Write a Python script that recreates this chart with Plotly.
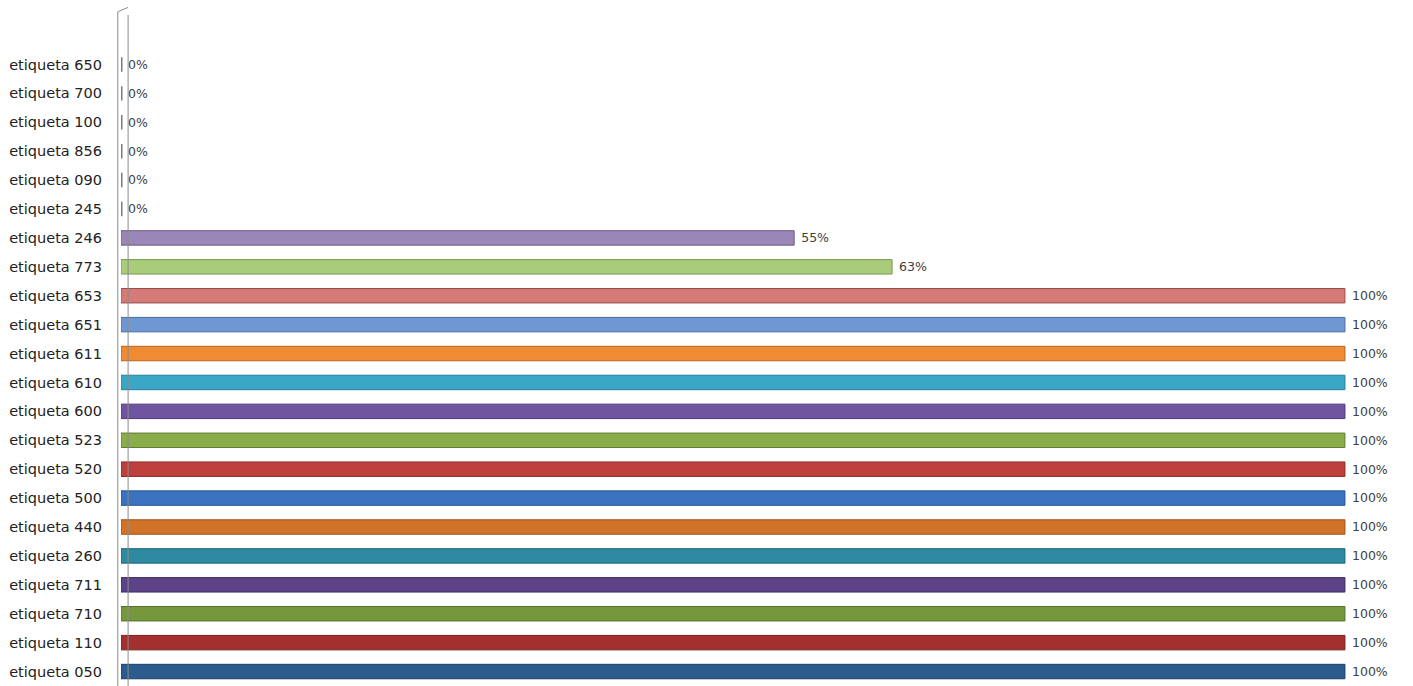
import plotly.graph_objects as go

categories = ["etiqueta 650", "etiqueta 700", "etiqueta 100", "etiqueta 856", "etiqueta 090",
              "etiqueta 245", "etiqueta 246", "etiqueta 773", "etiqueta 653", "etiqueta 651",
              "etiqueta 611", "etiqueta 610", "etiqueta 600", "etiqueta 523", "etiqueta 520",
              "etiqueta 500", "etiqueta 440", "etiqueta 260", "etiqueta 711", "etiqueta 710",
              "etiqueta 110", "etiqueta 050"]
values = [0, 0, 0, 0, 0, 0, 55, 63, 100, 100, 100, 100, 100, 100, 100, 100, 100, 100, 100, 100, 100, 100]
colors = ["#8a8a8a"] * 6 + ["#9b87b7", "#a9cc7b", "#d47b78", "#6f97d1", "#ef8b33", "#3aa7c6",
                             "#6f54a0", "#8aac4a", "#bf3f3d", "#3b73bf", "#d07329", "#2e8aa0",
                             "#5c4388", "#76983c", "#a3302e", "#2c5b8e"]
line_colors = ["#7a7a7a"] * 6 + ["#6d5c86", "#7a9a55", "#9a4f4d", "#4a6c9e", "#b8651f", "#267e97",
                                  "#4d3878", "#627e30", "#8c2a28", "#275593", "#9c541b", "#1f6578",
                                  "#3f2c63", "#54702a", "#76201e", "#1d3f66"]

fig = go.Figure()
fig.add_trace(go.Bar(
    y=categories, x=values, orientation="h",
    marker=dict(color=colors, line=dict(color=line_colors, width=[3]*6 + [1]*16)),
    width=0.5,
    text=[f"\u00a0{v}%" for v in values], textposition="outside",
    textfont=dict(family="DejaVu Sans", size=13, color="#404040"),
    cliponaxis=False,
))

# 3D wall edges (decoration, in paper coords)
x_l, x_r = -0.0025, 0.0055
for xv, ytop in ((x_l, 1.06), (x_r, 1.055)):
    fig.add_shape(type="line", xref="paper", yref="paper", x0=xv, x1=xv, y0=-0.01, y1=ytop,
                  line=dict(color="#8c8c8c", width=1))
fig.add_shape(type="line", xref="paper", yref="paper", x0=x_l, x1=x_r, y0=1.06, y1=1.055 + 0.012,
              line=dict(color="#8c8c8c", width=1))

fig.update_layout(
    width=1413, height=686,
    margin=dict(l=121, r=0, t=50, b=0),
    paper_bgcolor="white", plot_bgcolor="white",
    showlegend=False,
    bargap=0.5,
    xaxis=dict(range=[0, 105.56], visible=False, showgrid=False, zeroline=False),
    yaxis=dict(autorange="reversed", showgrid=False, zeroline=False, showline=False,
               ticks="", ticklabelstandoff=18,
               tickfont=dict(family="DejaVu Sans", size=14.5, color="#222222")),
)

fig.write_html("out.html")
